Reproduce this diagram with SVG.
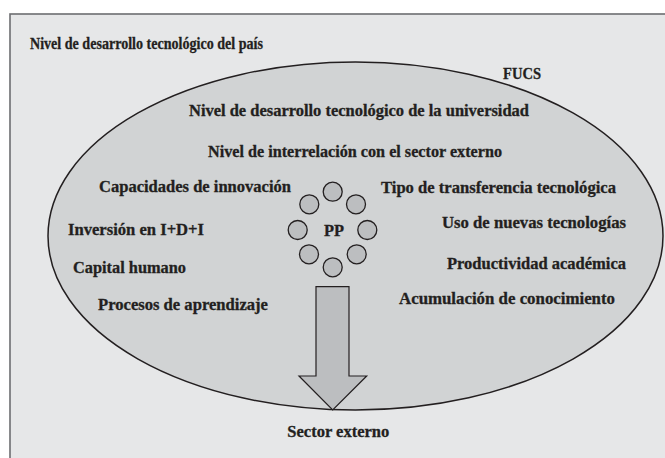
<svg xmlns="http://www.w3.org/2000/svg" width="665" height="458" viewBox="0 0 665 458">
<style>
.t{font-family:"Liberation Serif","Times New Roman",serif;font-weight:bold;font-size:16.3px;fill:#231f20;stroke:#231f20;stroke-width:0.3}
.c{fill:#bcbec0;stroke:#231f20;stroke-width:1.3}
</style>
<g id="pais">
<rect x="10" y="14" width="670" height="460" fill="#e6e7e8" stroke="#6d6e71" stroke-width="1.6"/>
<text class="t" x="30" y="48.5" textLength="233" lengthAdjust="spacingAndGlyphs">Nivel de desarrollo tecnológico del país</text>
</g>
<g id="fucs">
<ellipse cx="355.5" cy="236" rx="307.5" ry="174" fill="#d1d3d4" stroke="#231f20" stroke-width="1.5"/>
<text class="t" x="503" y="79" textLength="38" lengthAdjust="spacingAndGlyphs">FUCS</text>
<text class="t" x="189" y="116" textLength="340" lengthAdjust="spacingAndGlyphs">Nivel de desarrollo tecnológico de la universidad</text>
<text class="t" x="208" y="157" textLength="294" lengthAdjust="spacingAndGlyphs">Nivel de interrelación con el sector externo</text>
<text class="t" x="99" y="192" textLength="192" lengthAdjust="spacingAndGlyphs">Capacidades de innovación</text>
<text class="t" x="68" y="234.5" textLength="136" lengthAdjust="spacingAndGlyphs">Inversión en I+D+I</text>
<text class="t" x="73" y="273" textLength="113" lengthAdjust="spacingAndGlyphs">Capital humano</text>
<text class="t" x="98" y="310" textLength="170" lengthAdjust="spacingAndGlyphs">Procesos de aprendizaje</text>
<text class="t" x="381" y="193" textLength="235" lengthAdjust="spacingAndGlyphs">Tipo de transferencia tecnológica</text>
<text class="t" x="442" y="227.5" textLength="184" lengthAdjust="spacingAndGlyphs">Uso de nuevas tecnologías</text>
<text class="t" x="447" y="268.5" textLength="179" lengthAdjust="spacingAndGlyphs">Productividad académica</text>
<text class="t" x="399" y="303.5" textLength="216" lengthAdjust="spacingAndGlyphs">Acumulación de conocimiento</text>
</g>
<g id="pp">
<circle class="c" cx="332.7" cy="191.7" r="9.5"/>
<circle class="c" cx="309.3" cy="204.3" r="9.5"/>
<circle class="c" cx="356" cy="204.3" r="9.5"/>
<circle class="c" cx="297.7" cy="230" r="9.5"/>
<circle class="c" cx="367.3" cy="230" r="9.5"/>
<circle class="c" cx="309" cy="254.3" r="9.5"/>
<circle class="c" cx="356.7" cy="254.3" r="9.5"/>
<circle class="c" cx="332.7" cy="267.3" r="9.5"/>
<text class="t" x="334" y="236" text-anchor="middle" textLength="20" lengthAdjust="spacingAndGlyphs">PP</text>
</g>
<g id="connectors">
<polygon points="316,286.7 349,286.7 349,376 366.7,376 332.7,410 299,376 316,376" fill="#bcbec0" stroke="#231f20" stroke-width="1.2" stroke-linejoin="miter"/>
</g>
<g id="sector">
<text class="t" x="287.3" y="436.5" textLength="102" lengthAdjust="spacingAndGlyphs">Sector externo</text>
</g>
</svg>
